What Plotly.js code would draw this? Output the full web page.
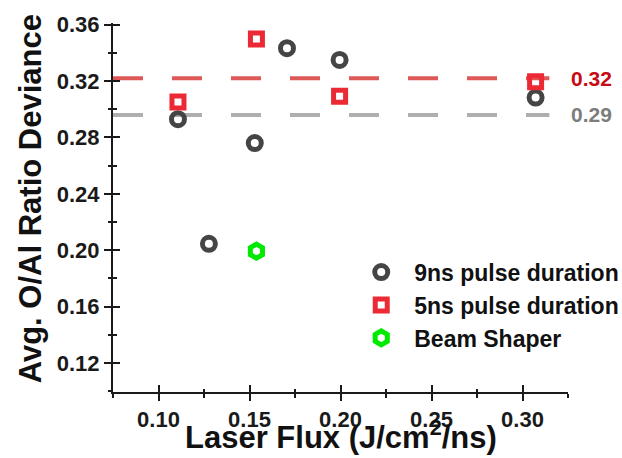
<!DOCTYPE html>
<html>
<head>
<meta charset="utf-8">
<script src="https://cdn.plot.ly/plotly-3.0.1.min.js"></script>
<style>html,body{margin:0;padding:0;background:#fff;}#chart{width:622px;height:458px;}</style>
</head>
<body>
<div id="chart"></div>
<script>
// ---- data ----
const flux9ns = [0.1107, 0.1277, 0.1529, 0.1706, 0.1995, 0.3072];
const ratio9ns = [0.293, 0.2045, 0.276, 0.3433, 0.335, 0.3083];
const flux5ns = [0.1107, 0.1538, 0.1995, 0.3072];
const ratio5ns = [0.3052, 0.3498, 0.3093, 0.3195];
const fluxBeam = [0.1538];
const ratioBeam = [0.1993];
const refValues = [0.322, 0.296];
const refLabels = ['0.32', '0.29'];
const seriesNames = ['9ns pulse duration', '5ns pulse duration', 'Beam Shaper'];
const xTickVals = [0.10, 0.15, 0.20, 0.25, 0.30];
const xTickText = ['0.10', '0.15', '0.20', '0.25', '0.30'];
const yTickVals = [0.12, 0.16, 0.20, 0.24, 0.28, 0.32, 0.36];
const yTickText = ['0.12', '0.16', '0.20', '0.24', '0.28', '0.32', '0.36'];
const xTitle = 'Laser Flux (J/cm<sup>2</sup>/ns)';
const yTitle = 'Avg. O/Al Ratio Deviance';

const FONT = 'Arial, "Liberation Sans", sans-serif';
const xRange = [0.075, 0.325];
const yRange = [0.0994, 0.3612];
const refColors = ['rgb(222,88,88)', 'rgb(175,175,175)'];
const refTextColors = ['rgb(200,10,20)', 'rgb(125,125,125)'];

const traces = [
  {x: flux9ns, y: ratio9ns, name: seriesNames[0], mode: 'markers', type: 'scatter',
   marker: {symbol: 'circle-open', size: 13, color: '#454545', line: {width: 5, color: '#454545'}}},
  {x: flux5ns, y: ratio5ns, name: seriesNames[1], mode: 'markers', type: 'scatter',
   marker: {symbol: 'square-open', size: 12, color: '#ec2a35', line: {width: 5, color: '#ec2a35'}}},
  {x: fluxBeam, y: ratioBeam, name: seriesNames[2], mode: 'markers', type: 'scatter',
   marker: {symbol: 'hexagon-open', size: 14, color: '#00ea00', line: {width: 5, color: '#00ea00'}}},
  {x: [], y: [], xaxis: 'x2', yaxis: 'y2', showlegend: false, hoverinfo: 'skip', type: 'scatter', mode: 'markers'}
];

const shapes = refValues.map((v, i) => ({
  type: 'line', xref: 'paper', yref: 'y', x0: 0, x1: 0.959, y0: v, y1: v,
  layer: 'below', line: {color: refColors[i], width: 4, dash: '30px,29px'}
}));
const annotations = refValues.map((v, i) => ({
  xref: 'paper', yref: 'y', x: 1.003, y: v, xanchor: 'left', yanchor: 'middle',
  text: '<b>' + refLabels[i] + '</b>', showarrow: false,
  font: {family: FONT, size: 21, color: refTextColors[i]}
}));
annotations.push({
  xref: 'paper', yref: 'paper', x: 0.5, y: -0.116, xanchor: 'center', yanchor: 'middle',
  text: '<b>' + xTitle + '</b>', showarrow: false,
  font: {family: FONT, size: 31, color: '#111'}
});
annotations.push({
  xref: 'paper', yref: 'paper', x: -0.181, y: 0.524, xanchor: 'center', yanchor: 'middle',
  text: '<b>' + yTitle + '</b>', showarrow: false, textangle: -90,
  font: {family: FONT, size: 31, color: '#111'}
});

const axisCommon = {
  showgrid: false, zeroline: false, showline: true, linecolor: '#1a1a1a', linewidth: 2,
  ticks: 'outside', ticklen: 7, tickwidth: 2, tickcolor: '#1a1a1a',
  tickfont: {family: FONT, size: 22, color: '#1a1a1a', weight: 'bold'}
};

const layout = {
  width: 622, height: 458,
  margin: {l: 113, r: 54, t: 23, b: 66, autoexpand: false},
  paper_bgcolor: '#fff', plot_bgcolor: '#fff',
  showlegend: true,
  legend: {x: 0.517, y: 0.383, xanchor: 'left', yanchor: 'top', bgcolor: 'rgba(0,0,0,0)',
           font: {family: FONT, size: 23, color: '#111', weight: 'bold'}, itemwidth: 56, tracegroupgap: 0},
  xaxis: Object.assign({}, axisCommon, {
    range: xRange, tickvals: xTickVals, ticktext: xTickText,
    minor: {dtick: 0.025, tick0: 0.075, ticks: 'outside', ticklen: 3.5, tickwidth: 2, tickcolor: '#1a1a1a'}
  }),
  yaxis: Object.assign({}, axisCommon, {
    range: yRange, tickvals: yTickVals, ticktext: yTickText,
    minor: {dtick: 0.02, tick0: 0.10, ticks: 'outside', ticklen: 3.5, tickwidth: 2, tickcolor: '#1a1a1a'}
  }),
  xaxis2: {overlaying: 'x', anchor: 'y', range: xRange, showgrid: false, zeroline: false, showline: false,
    showticklabels: false, tickvals: xTickVals, ticks: 'inside', ticklen: 7, tickwidth: 2, tickcolor: '#1a1a1a',
    minor: {dtick: 0.025, tick0: 0.075, ticks: 'inside', ticklen: 3.5, tickwidth: 2, tickcolor: '#1a1a1a'}},
  yaxis2: {overlaying: 'y', anchor: 'x', side: 'left', range: yRange, showgrid: false, zeroline: false, showline: false,
    showticklabels: false, tickvals: yTickVals, ticks: 'inside', ticklen: 7, tickwidth: 2, tickcolor: '#1a1a1a',
    minor: {dtick: 0.02, tick0: 0.10, ticks: 'inside', ticklen: 3.5, tickwidth: 2, tickcolor: '#1a1a1a'}},
  shapes: shapes,
  annotations: annotations
};

Plotly.newPlot('chart', traces, layout, {displayModeBar: false, staticPlot: true});
</script>
</body>
</html>
